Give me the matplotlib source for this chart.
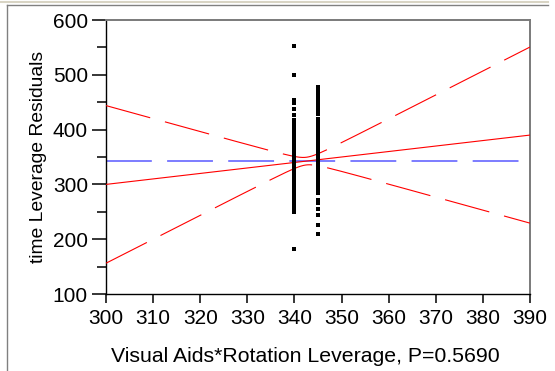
import numpy as np
import matplotlib.pyplot as plt
from matplotlib.lines import Line2D

plt.rcParams["font.family"] = ["Liberation Sans", "DejaVu Sans"]
plt.rcParams["lines.scale_dashes"] = False

# leverage values (x) and residuals (y) for the two groups
x_levels = [340, 345]
y_340 = [553, 500, 454, 449, 437, 427, 418, 414, 409, 404, 398, 393,
         389, 385, 381, 377, 372, 366, 362, 358, 355, 351, 348, 345,
         342, 339, 336, 333, 330, 327, 324, 321, 318, 315, 312, 309,
         306, 303, 300, 297, 294, 291, 288, 285, 282, 279, 276, 272,
         268, 265, 261, 257, 253, 250, 183]
y_345 = [478, 474, 470, 465, 461, 455, 452, 445, 440, 433, 428, 420,
         416, 412, 408, 404, 400, 396, 392, 388, 384, 380, 376, 372,
         368, 364, 360, 356, 352, 348, 344, 340, 336, 332, 328, 324,
         320, 316, 312, 308, 304, 300, 296, 292, 288, 284, 272, 266,
         256, 244, 226, 210]

# fitted line and confidence curve parameters
x_mean = 342.5
y_mean = 342.5
slope = 1.0
ci_center = 7.0
ci_slope = 3.38

x_range = [300, 390]
y_range = [100, 600]
x_ticks = list(range(300, 391, 10))
y_ticks = list(range(100, 601, 100))

fig = plt.figure(figsize=(5.55, 3.71), dpi=100)
ax = fig.add_axes([106 / 555, 1 - 294 / 371, 424 / 555, 274 / 371])

xs = np.linspace(x_range[0], x_range[1], 400)
fit = y_mean + slope * (xs - x_mean)
half = np.sqrt(ci_center ** 2 + (ci_slope * (xs - x_mean)) ** 2)

ax.plot(x_range, [y_mean, y_mean], color="#7c7cff", lw=1.4,
        dashes=(33, 11), zorder=2)
ax.plot(xs, fit, color="red", lw=0.8, zorder=3)
ax.plot(xs, fit + half, color="red", lw=0.8, dashes=(33, 11), zorder=3)
ax.plot(xs, fit - half, color="red", lw=0.8, dashes=(33, 11), zorder=3)

ax.plot([x_levels[0]] * len(y_340), y_340, "s", color="black", ms=2.6,
        mew=0, zorder=4)
ax.plot([x_levels[1]] * len(y_345), y_345, "s", color="black", ms=2.6,
        mew=0, zorder=4)

ax.set_xlim(x_range)
ax.set_ylim(y_range)
ax.set_xticks(x_ticks)
ax.set_yticks(y_ticks)
ax.set_yticks(list(range(150, 600, 100)), minor=True)

ax.tick_params(axis="x", length=6.5, width=1.1, pad=4, labelsize=15,
               colors="black")
ax.tick_params(axis="y", which="major", length=10, width=1.1, pad=3,
               labelsize=15)
ax.tick_params(axis="y", which="minor", length=6.3, width=1.1)

for side in ["left", "bottom"]:
    ax.spines[side].set_color("black")
    ax.spines[side].set_linewidth(1.0)
for side in ["top", "right"]:
    ax.spines[side].set_color("#7a7a7a")
    ax.spines[side].set_linewidth(1.4)

ax.set_xlabel("Visual Aids*Rotation Leverage, P=0.5690", fontsize=15.3)
ax.xaxis.set_label_coords(0.469, -0.195)
ax.set_ylabel("time Leverage Residuals", fontsize=13.9, labelpad=4)

# outer panel border
fig.add_artist(Line2D([7 / 555, 7 / 555], [0, 1 - 5 / 371],
                      transform=fig.transFigure, color="#808080", lw=1.0))
fig.add_artist(Line2D([7 / 555, 548 / 555], [1 - 5 / 371, 1 - 5 / 371],
                      transform=fig.transFigure, color="#808080", lw=1.0))
fig.add_artist(Line2D([0, 548 / 555], [1 - 1.5 / 371, 1 - 1.5 / 371],
                      transform=fig.transFigure, color="#d8d4c4", lw=1.5))

fig.savefig("out.png", dpi=100)
